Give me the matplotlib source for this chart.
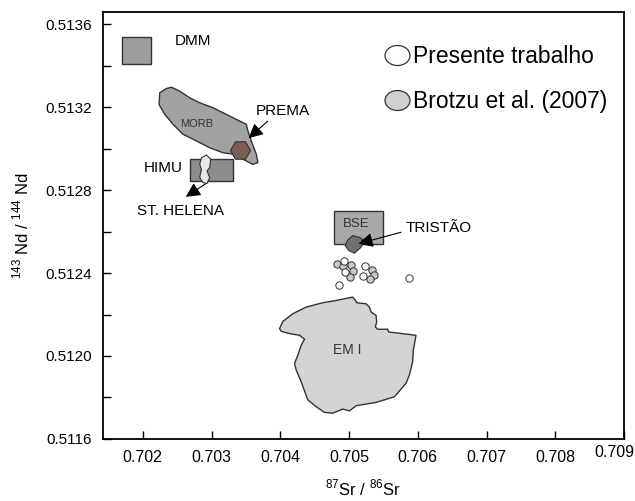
import matplotlib
matplotlib.use("Agg")
import matplotlib.pyplot as plt
import matplotlib.transforms as mtransforms
import numpy as np
from matplotlib.patches import Polygon, Rectangle
from matplotlib.lines import Line2D
from matplotlib.path import Path

plt.rcParams['font.family'] = ['Liberation Sans', 'DejaVu Sans']
plt.rcParams['mathtext.fontset'] = 'custom'
plt.rcParams['mathtext.rm'] = 'Liberation Sans'

# --- data (87Sr/86Sr, 143Nd/144Nd) ---
# mantle end-member boxes: (x0, x1, y0, y1)
dmm_box = (0.70170, 0.70212, 0.51341, 0.51354)
himu_box = (0.70269, 0.70331, 0.512845, 0.51295)
bse_box = (0.70478, 0.70549, 0.51254, 0.51270)

morb_x = [0.702247, 0.702345, 0.702417, 0.702538, 0.702683, 0.702828, 0.703021, 0.703215,
          0.703408, 0.703506, 0.703529, 0.703578, 0.703651, 0.703674, 0.703601, 0.703506,
          0.703311, 0.703166, 0.702973, 0.70278, 0.702585, 0.70244, 0.70232, 0.702237]
morb_y = [0.51327, 0.513291, 0.513297, 0.513278, 0.513246, 0.513222, 0.513198, 0.513166,
          0.513134, 0.513118, 0.513086, 0.513038, 0.512974, 0.512933, 0.512925, 0.512941,
          0.512974, 0.512981, 0.513005, 0.513038, 0.51307, 0.513118, 0.513166, 0.513214]

helena_x = [0.702925, 0.702988, 0.702973, 0.702934, 0.702973, 0.702934, 0.702876, 0.702828,
            0.702853, 0.702828, 0.702853]
helena_y = [0.51297, 0.51295, 0.512909, 0.512893, 0.512861, 0.512832, 0.512837, 0.512861,
            0.512901, 0.512925, 0.512957]

tristao_x = [0.70498, 0.705053, 0.70515, 0.705223, 0.705175, 0.705078, 0.704995, 0.704943]
tristao_y = [0.51256, 0.512581, 0.512573, 0.512557, 0.512525, 0.512496, 0.512509, 0.512533]

em1_x = [0.703989, 0.704037, 0.704182, 0.704376, 0.704617, 0.704812, 0.705053, 0.705092,
         0.705111, 0.705247, 0.705295, 0.70532, 0.705392, 0.705401, 0.705382, 0.705416,
         0.705561, 0.705575, 0.705973, 0.705934, 0.705924, 0.705876, 0.705828, 0.705658,
         0.705392, 0.705102, 0.705005, 0.704908, 0.704763, 0.704642, 0.704522, 0.7044,
         0.704304, 0.704231, 0.704207, 0.704255, 0.704304, 0.704352, 0.704279, 0.704134,
         0.704014]
em1_y = [0.512132, 0.512167, 0.512204, 0.512236, 0.512257, 0.512268, 0.512284, 0.512268,
         0.512257, 0.512252, 0.512236, 0.512212, 0.512196, 0.512164, 0.51214, 0.512129,
         0.512129, 0.512116, 0.5121, 0.512028, 0.511972, 0.511908, 0.511868, 0.511803,
         0.511776, 0.51176, 0.511735, 0.511744, 0.511724, 0.511728, 0.511755, 0.511788,
         0.511875, 0.511932, 0.511964, 0.512004, 0.512052, 0.512081, 0.5121, 0.512108,
         0.512119]

prema = (0.70341, 0.512994)

# samples
presente_x = [0.704932, 0.704947, 0.705237, 0.705198, 0.70486, 0.705866]
presente_y = [0.512457, 0.512404, 0.512432, 0.512388, 0.512345, 0.512377]
brotzu_x = [0.704821, 0.704918, 0.70503, 0.705063, 0.705015, 0.705334, 0.705368, 0.705305]
brotzu_y = [0.512445, 0.512432, 0.512437, 0.512409, 0.51238, 0.512416, 0.512393, 0.512373]

xticks = [0.702, 0.703, 0.704, 0.705, 0.706, 0.707, 0.708, 0.709]
yticks = [0.5116, 0.5120, 0.5124, 0.5128, 0.5132, 0.5136]

fig = plt.figure(figsize=(6.35, 5.01), dpi=100)
ax = fig.add_axes([0.162, 0.124, 0.821, 0.852])

edge = '#333333'
for (x0, x1, y0, y1), fc in [(dmm_box, '#9d9d9f'), (himu_box, '#8c8c8e'), (bse_box, '#a9a9ab')]:
    ax.add_patch(Rectangle((x0, y0), x1 - x0, y1 - y0, facecolor=fc, edgecolor=edge, lw=1.0, zorder=2))

ax.add_patch(Polygon(np.column_stack([morb_x, morb_y]), closed=True, facecolor='#a2a2a4',
                     edgecolor=edge, lw=1.0, zorder=2))
ax.add_patch(Polygon(np.column_stack([em1_x, em1_y]), closed=True, facecolor='#d4d4d6',
                     edgecolor=edge, lw=1.0, zorder=2))
ax.add_patch(Polygon(np.column_stack([helena_x, helena_y]), closed=True, facecolor='#e8e8ea',
                     edgecolor=edge, lw=0.8, zorder=4))
ax.add_patch(Polygon(np.column_stack([tristao_x, tristao_y]), closed=True, facecolor='#707072',
                     edgecolor=edge, lw=0.8, zorder=4))
ax.scatter([prema[0]], [prema[1]], marker='H', s=210, facecolor='#7d5c52', edgecolor=edge,
           lw=0.8, zorder=4)

ax.scatter(brotzu_x, brotzu_y, s=28, facecolor='#c8c8ca', edgecolor=edge, lw=0.7, zorder=5)
ax.scatter(presente_x, presente_y, s=28, facecolor='white', edgecolor=edge, lw=0.7, zorder=5)

# labels
ax.text(0.70247, 0.51352, 'DMM', fontsize=11, va='center', ha='left')
ax.text(0.704033, 0.513182, 'PREMA', fontsize=11, va='center', ha='center')
ax.text(0.702585, 0.512908, 'HIMU', fontsize=11, va='center', ha='right')
ax.text(0.702552, 0.512701, 'ST. HELENA', fontsize=11, va='center', ha='center')
ax.text(0.705818, 0.512619, 'TRISTÃO', fontsize=11, va='center', ha='left')
ax.text(0.70278, 0.51312, 'MORB', fontsize=8, va='center', ha='center', color='#333333', zorder=3)
ax.text(0.705107, 0.512638, 'BSE', fontsize=9.5, va='center', ha='center', color='#333333', zorder=3)
ax.text(0.704969, 0.512028, 'EM I', fontsize=10, va='center', ha='center', color='#333333', zorder=3)

arrow = dict(arrowstyle='-|>', color='black', lw=0.8, mutation_scale=22, shrinkA=0, shrinkB=0)
ax.annotate('', xy=(0.703539, 0.513051), xytext=(0.703815, 0.513133), arrowprops=arrow, zorder=6)
ax.annotate('', xy=(0.702625, 0.512768), xytext=(0.702915, 0.512831), arrowprops=arrow, zorder=6)
ax.annotate('', xy=(0.705136, 0.512542), xytext=(0.705755, 0.512597), arrowprops=arrow, zorder=6)

# legend with elliptic markers
t = np.linspace(0, 2 * np.pi, 60)
ell = Path(np.column_stack([1.25 * np.cos(t), np.sin(t)]))
handles = [Line2D([], [], ls='none', marker=ell, markersize=18, markerfacecolor='white',
                  markeredgecolor=edge, markeredgewidth=0.9),
           Line2D([], [], ls='none', marker=ell, markersize=18, markerfacecolor='#d0d0d2',
                  markeredgecolor=edge, markeredgewidth=0.9)]
ax.legend(handles, ['Presente trabalho', 'Brotzu et al. (2007)'], loc='upper left',
          bbox_to_anchor=(0.50, 0.97), frameon=False, fontsize=16.5, handletextpad=0.15,
          labelspacing=0.95, handlelength=1.1)

ax.set_xlim(0.70142, 0.709)
ax.set_ylim(0.5116, 0.51366)
ax.set_xticks(xticks)
ax.set_xticklabels(['%.3f' % v for v in xticks])
ax.set_yticks(yticks)
ax.set_yticklabels(['%.4f' % v for v in yticks])
ax.set_yticks(np.arange(0.5118, 0.5136, 0.0004), minor=True)
ax.tick_params(which='both', direction='in', length=6, width=1.0, labelsize=11, pad=8)
ax.tick_params(axis='x', labelsize=11.5)
for s in ax.spines.values():
    s.set_linewidth(1.3)

# the last x label sits a bit up and left, at the corner
last = ax.get_xticklabels()[-1]
last.set_transform(last.get_transform() +
                   mtransforms.ScaledTranslation(-10 / 100, 5 / 100, fig.dpi_scale_trans))

ax.set_xlabel(r'$^{87}$Sr / $^{86}$Sr', fontsize=12, labelpad=9)
ax.set_ylabel(r'$^{143}$ Nd / $^{144}$ Nd', fontsize=12, labelpad=10)

fig.savefig('out.png', dpi=100)
